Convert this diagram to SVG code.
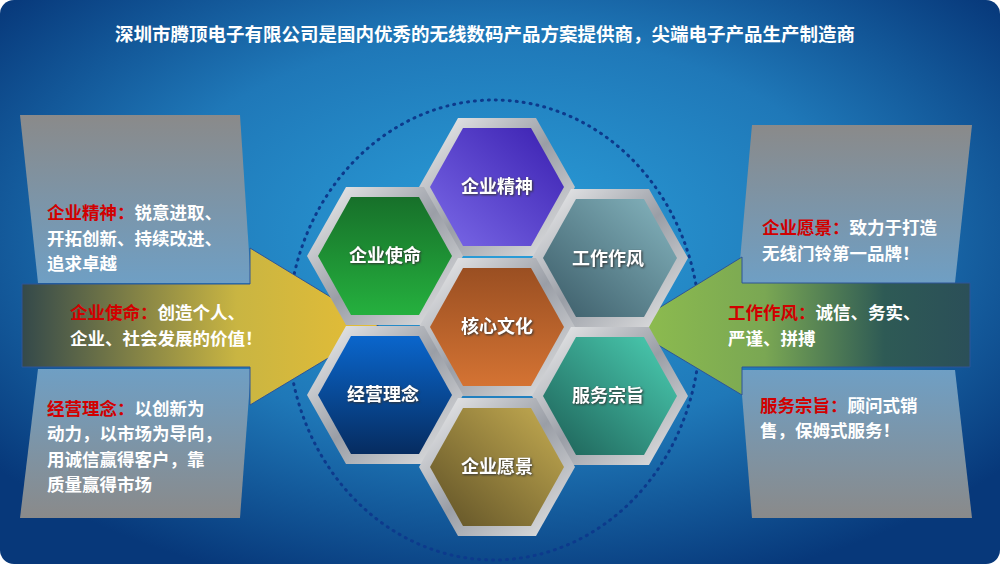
<svg xmlns="http://www.w3.org/2000/svg" width="1000" height="564" viewBox="0 0 1000 564">
<defs>
<radialGradient id="bg" cx="50%" cy="42%" r="65%"><stop offset="0" stop-color="#2b9fda"/><stop offset="0.55" stop-color="#1f78b8"/><stop offset="1" stop-color="#07387a"/></radialGradient>
<linearGradient id="panelT" x1="0" y1="0" x2="0" y2="1"><stop offset="0" stop-color="#8a8a8a"/><stop offset="1" stop-color="#6f9fc4"/></linearGradient>
<linearGradient id="panelB" x1="0" y1="0" x2="0" y2="1"><stop offset="0" stop-color="#6f9fc4"/><stop offset="1" stop-color="#8a8a8a"/></linearGradient>
<linearGradient id="arrL" x1="0" y1="0" x2="1" y2="0"><stop offset="0" stop-color="#34494a"/><stop offset="0.6" stop-color="#c9b542"/><stop offset="1" stop-color="#e6bd35"/></linearGradient>
<linearGradient id="arrR" x1="1" y1="0" x2="0" y2="0"><stop offset="0" stop-color="#2b4f58"/><stop offset="0.25" stop-color="#2e5a55"/><stop offset="0.6" stop-color="#7aa753"/><stop offset="1" stop-color="#8fbe4e"/></linearGradient>
<linearGradient id="silver" x1="0" y1="0" x2="1" y2="1"><stop offset="0" stop-color="#f4f4f4"/><stop offset="0.5" stop-color="#9a9ea6"/><stop offset="1" stop-color="#e8e8e8"/></linearGradient>
<linearGradient id="gP" x1="1" y1="0" x2="0" y2="1"><stop offset="0" stop-color="#3a1fb0"/><stop offset="1" stop-color="#7b6ae8"/></linearGradient>
<linearGradient id="gG" x1="0" y1="0" x2="0" y2="1"><stop offset="0" stop-color="#17702a"/><stop offset="1" stop-color="#25b03e"/></linearGradient>
<linearGradient id="gT" x1="1" y1="0" x2="0" y2="1"><stop offset="0" stop-color="#86b6c0"/><stop offset="1" stop-color="#3a5a66"/></linearGradient>
<linearGradient id="gO" x1="0" y1="0" x2="0" y2="1"><stop offset="0" stop-color="#9a4f22"/><stop offset="1" stop-color="#d47333"/></linearGradient>
<linearGradient id="gB" x1="0" y1="0" x2="0" y2="1"><stop offset="0" stop-color="#0a66cc"/><stop offset="1" stop-color="#062c60"/></linearGradient>
<linearGradient id="gS" x1="1" y1="0" x2="0" y2="1"><stop offset="0" stop-color="#4cd0b4"/><stop offset="1" stop-color="#1c5e55"/></linearGradient>
<linearGradient id="gY" x1="1" y1="0" x2="0" y2="1"><stop offset="0" stop-color="#c6ad52"/><stop offset="1" stop-color="#5e5026"/></linearGradient>
<polygon id="hexO" points="-78,0 -39,-69 39,-69 78,0 39,69 -39,69"/>
<polygon id="hexI" points="-67,0 -34,-59 34,-59 67,0 34,59 -34,59"/>
</defs>
<style>
text{font-family:"Liberation Sans","Noto Sans CJK SC",sans-serif;font-weight:bold;fill:#fff}
.t{font-size:17.5px}
.r{fill:#d20000}
.h{font-size:18px;text-anchor:middle;dominant-baseline:central;filter:drop-shadow(1px 1px 1px #333)}
</style>
<rect x="0" y="0" width="1000" height="564" rx="14" fill="url(#bg)"/>
<text x="485" y="41" font-size="18.5" text-anchor="middle">深圳市腾顶电子有限公司是国内优秀的无线数码产品方案提供商，尖端电子产品生产制造商</text>
<ellipse cx="494" cy="330" rx="206" ry="230" fill="none" stroke="#0d3a8c" stroke-width="3" stroke-dasharray="1 6" stroke-linecap="round"/>
<g id="panels">
<polygon points="20,115 240,115 251,283 38,283" fill="url(#panelT)"/>
<polygon points="38,369 251,369 240,518 20,518" fill="url(#panelB)"/>
<polygon points="752,125 972,125 955,283 738,283" fill="url(#panelT)"/>
<polygon points="740,370 955,370 972,518 752,518" fill="url(#panelB)"/>
</g>
<g id="connectors">
<polygon points="22,284 250,284 250,248 380,327 250,405 250,367 22,367" fill="url(#arrL)" stroke="#2f5597" stroke-width="1"/>
<polygon points="970,283 742,283 742,257 628,327 742,395 742,367 970,367" fill="url(#arrR)" stroke="#2f5597" stroke-width="1"/>
</g>
<g id="hex-top"><use href="#hexO" x="497" y="187" fill="url(#silver)"/><use href="#hexI" x="497" y="187" fill="url(#gP)"/><text class="h" x="497" y="187">企业精神</text></g>
<g id="hex-ul"><use href="#hexO" x="385" y="256" fill="url(#silver)"/><use href="#hexI" x="385" y="256" fill="url(#gG)"/><text class="h" x="385" y="256">企业使命</text></g>
<g id="hex-ur"><use href="#hexO" x="610" y="258" fill="url(#silver)"/><use href="#hexI" x="610" y="258" fill="url(#gT)"/><text class="h" x="608" y="259">工作作风</text></g>
<g id="hex-c"><use href="#hexO" x="497" y="327" fill="url(#silver)"/><use href="#hexI" x="497" y="327" fill="url(#gO)"/><text class="h" x="497" y="327" font-size="22">核心文化</text></g>
<g id="hex-ll"><use href="#hexO" x="385" y="395" fill="url(#silver)"/><use href="#hexI" x="385" y="395" fill="url(#gB)"/><text class="h" x="383" y="395">经营理念</text></g>
<g id="hex-lr"><use href="#hexO" x="610" y="396" fill="url(#silver)"/><use href="#hexI" x="610" y="396" fill="url(#gS)"/><text class="h" x="608" y="396">服务宗旨</text></g>
<g id="hex-bot"><use href="#hexO" x="497" y="467" fill="url(#silver)"/><use href="#hexI" x="497" y="467" fill="url(#gY)"/><text class="h" x="497" y="467">企业愿景</text></g>
<g id="text-left">
<text class="t" x="47" y="219"><tspan class="r">企业精神：</tspan>锐意进取、</text>
<text class="t" x="47" y="245">开拓创新、持续改进、</text>
<text class="t" x="47" y="270">追求卓越</text>
<text class="t" x="70" y="319"><tspan class="r">企业使命：</tspan>创造个人、</text>
<text class="t" x="70" y="345">企业、社会发展的价值！</text>
<text class="t" x="47" y="415"><tspan class="r">经营理念：</tspan>以创新为</text>
<text class="t" x="47" y="440">动力，以市场为导向，</text>
<text class="t" x="47" y="466">用诚信赢得客户，靠</text>
<text class="t" x="47" y="491">质量赢得市场</text>
</g>
<g id="text-right">
<text class="t" x="762" y="234"><tspan class="r">企业愿景：</tspan>致力于打造</text>
<text class="t" x="762" y="260">无线门铃第一品牌！</text>
<text class="t" x="728" y="319"><tspan class="r">工作作风：</tspan>诚信、务实、</text>
<text class="t" x="728" y="345">严谨、拼搏</text>
<text class="t" x="760" y="412"><tspan class="r">服务宗旨：</tspan>顾问式销</text>
<text class="t" x="760" y="437">售，保姆式服务！</text>
</g>
</svg>
